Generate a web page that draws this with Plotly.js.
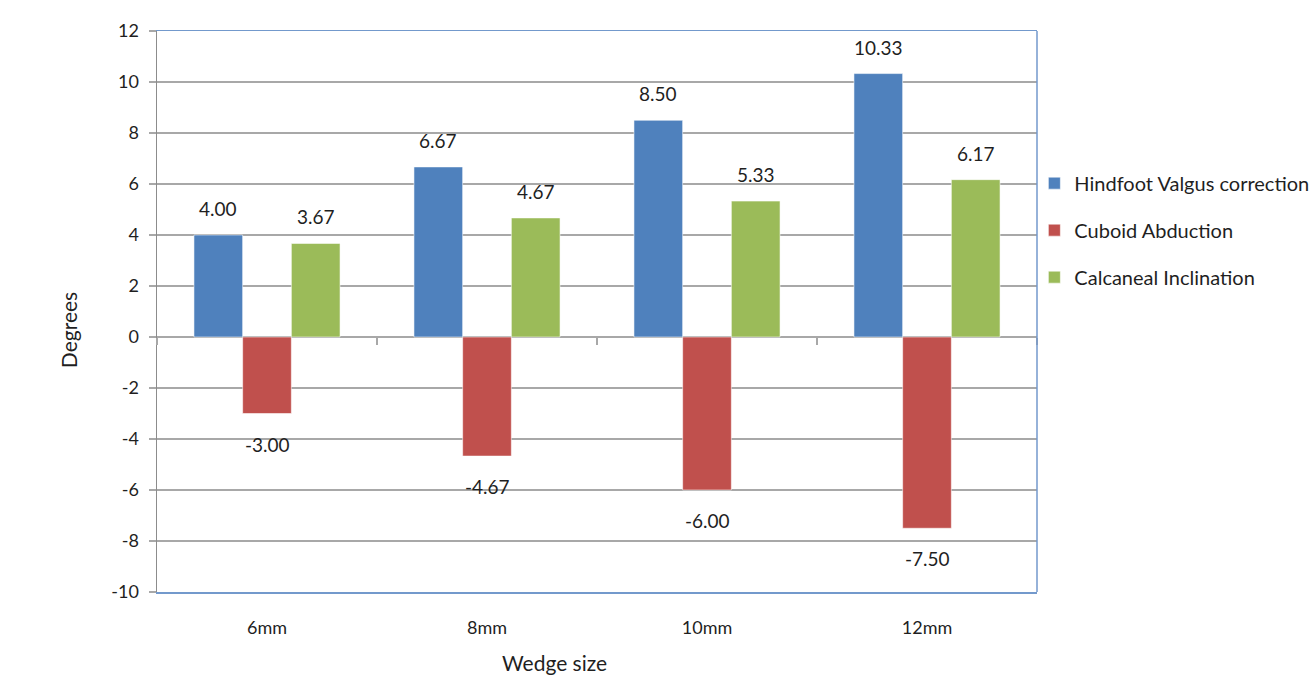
<!DOCTYPE html>
<html>
<head>
<meta charset="utf-8">
<script src="https://cdn.plot.ly/plotly-3.0.1.min.js"></script>
<style>html,body{margin:0;padding:0;background:#fff;}#chart{width:1313px;height:683px;}</style>
</head>
<body>
<div id="chart"></div>
<script>
const categories = ["6mm", "8mm", "10mm", "12mm"];
const seriesNames = ["Hindfoot Valgus correction", "Cuboid Abduction", "Calcaneal Inclination"];
const hindfoot = [4.00, 6.67, 8.50, 10.33];
const cuboid = [-3.00, -4.67, -6.00, -7.50];
const calcaneal = [3.67, 4.67, 5.33, 6.17];
const yTicks = [-10, -8, -6, -4, -2, 0, 2, 4, 6, 8, 10, 12];

const colors = ["#4f81bd", "#c0504d", "#9bbb59"];
const seriesValues = [hindfoot, cuboid, calcaneal];
const yMin = -10, yMax = 12;
const bargap = 0.336;
const fontFam = "Lato, 'Open Sans', sans-serif";
const textColor = "#1f1f1f";
const gridColor = "#a8a8a8";
const borderBlue = "#7399cc";

const traces = seriesValues.map((vals, k) => ({
  type: "bar",
  name: seriesNames[k],
  x: categories,
  y: vals,
  legendgroup: "g" + k,
  marker: {color: colors[k], line: {color: "rgba(255,255,255,0.55)", width: 1}},
  hoverinfo: "x+y+name"
}));

// helper trace for the tick marks on the zero line
traces.push({
  type: "scatter", mode: "markers", x: categories, y: categories.map(() => 0),
  xaxis: "x2", yaxis: "y", marker: {size: 0.1, opacity: 0}, hoverinfo: "skip", showlegend: false
});

const barW = (1 - bargap) / seriesValues.length;
const annotations = [];
seriesValues.forEach((vals, k) => {
  vals.forEach((v, i) => {
    const pos = v >= 0;
    annotations.push({
      x: i + (k - (seriesValues.length - 1) / 2) * barW,
      y: v, xref: "x", yref: "y",
      text: v.toFixed(2), showarrow: false,
      yanchor: pos ? "bottom" : "top",
      yshift: pos ? 13 : -17,
      font: {family: fontFam, size: 19, color: textColor}
    });
  });
});
annotations.push({
  text: "Degrees", xref: "paper", yref: "paper", x: -0.101, y: 0.467,
  textangle: -90, showarrow: false, xanchor: "center", yanchor: "middle",
  font: {family: fontFam, size: 21, color: textColor}
});
annotations.push({
  text: "Wedge size", xref: "paper", yref: "paper", x: 0.452, y: -0.125,
  showarrow: false, xanchor: "center", yanchor: "middle",
  font: {family: fontFam, size: 21, color: textColor}
});

const layout = {
  width: 1313, height: 683,
  margin: {l: 157, r: 276, t: 31, b: 91, autoexpand: false},
  paper_bgcolor: "#ffffff", plot_bgcolor: "#ffffff",
  barmode: "group", bargap: bargap, bargroupgap: 0,
  font: {family: fontFam, color: textColor},
  showlegend: true,
  legend: {
    x: 0.997, xanchor: "left", y: 0.645, yanchor: "middle",
    traceorder: "grouped", tracegroupgap: 18,
    font: {family: fontFam, size: 20, color: textColor},
    bgcolor: "rgba(0,0,0,0)"
  },
  xaxis: {
    type: "category", categoryarray: categories, range: [-0.5, categories.length - 0.5],
    showline: true, linecolor: borderBlue, linewidth: 1.5, mirror: true,
    showgrid: false, ticks: "", zeroline: false,
    ticklabelstandoff: 19,
    tickfont: {family: fontFam, size: 18, color: textColor}
  },
  xaxis2: {
    type: "category", categoryarray: categories, range: [-0.5, categories.length - 0.5],
    overlaying: "x", anchor: "free", position: (0 - yMin) / (yMax - yMin),
    showline: false, showgrid: false, zeroline: false, showticklabels: false,
    ticks: "outside", tickson: "boundaries", ticklen: 7, tickcolor: gridColor, tickwidth: 1.5
  },
  yaxis: {
    range: [yMin, yMax], tickvals: yTicks, ticktext: yTicks.map(String),
    showgrid: true, gridcolor: gridColor, gridwidth: 1.5,
    zeroline: true, zerolinecolor: gridColor, zerolinewidth: 1.5,
    showline: true, linecolor: "#8c8c8c", linewidth: 1.5,
    ticks: "outside", ticklen: 7, tickcolor: gridColor, tickwidth: 1.5,
    ticklabelstandoff: 6,
    tickfont: {family: fontFam, size: 18, color: textColor}
  },
  shapes: [{
    type: "line", xref: "paper", yref: "paper", x0: 1, x1: 1, y0: 0, y1: 1,
    line: {color: borderBlue, width: 1.5}, layer: "above"
  }],
  annotations: annotations
};

Plotly.newPlot("chart", traces, layout, {displayModeBar: false, staticPlot: true});
</script>
</body>
</html>
